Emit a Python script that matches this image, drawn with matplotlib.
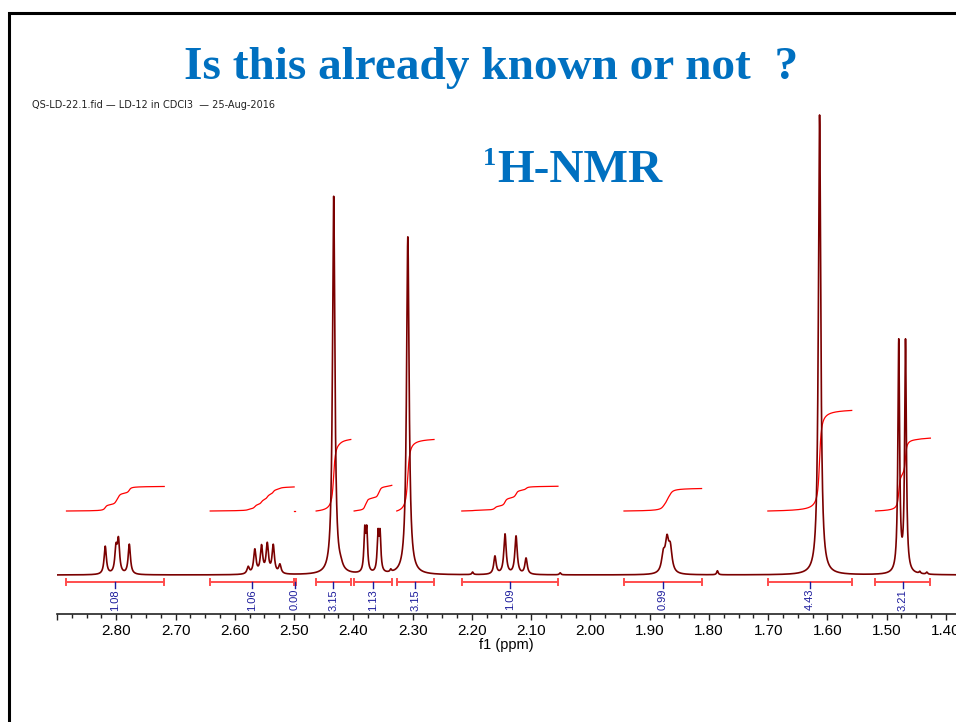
import numpy as np
import matplotlib.pyplot as plt
from matplotlib.patches import Rectangle
from matplotlib.ticker import MultipleLocator, FuncFormatter

# пики спектра: положение (ppm), высота (усл. ед.), полуширина (ppm)
peak_ppm = [2.8186, 2.8005, 2.7963, 2.7780,
            2.5774, 2.5662, 2.5549, 2.5452, 2.5351, 2.5239,
            2.4331, 2.4213,
            2.3807, 2.3773, 2.3583, 2.3549, 2.3368,
            2.3080,
            2.1987, 2.1610, 2.1440, 2.1254, 2.1085, 2.0510,
            1.8769, 1.8707, 1.8651, 1.7856,
            1.6132,
            1.4796, 1.4682, 1.4441, 1.4323]
peak_height = [28, 24, 32, 30,
               7, 24, 27, 29, 28, 9,
               378, 4,
               40, 40, 37, 37, 2.5,
               338,
               2.5, 18, 40, 38, 16, 2,
               17, 30, 23, 4,
               460,
               231, 231, 2, 2]
peak_hw = [0.0023, 0.0023, 0.0023, 0.0023,
           0.0024, 0.0024, 0.0024, 0.0024, 0.0024, 0.0024,
           0.0024, 0.0040,
           0.0017, 0.0017, 0.0017, 0.0017, 0.0015,
           0.0026,
           0.0015, 0.0024, 0.0024, 0.0024, 0.0024, 0.0015,
           0.0035, 0.0035, 0.0035, 0.0015,
           0.0024,
           0.0017, 0.0017, 0.0015, 0.0015]

# интегралы: границы областей (ppm) и значения
int_start = [2.8840, 2.6415, 2.5000, 2.4627, 2.3987, 2.3267, 2.2170, 1.9433, 1.7005, 1.5189]
int_end = [2.7190, 2.4998, 2.4975, 2.4042, 2.3350, 2.2637, 2.0546, 1.8123, 1.5589, 1.4262]
int_value = [1.08, 1.06, 0.00, 3.15, 1.13, 3.15, 1.09, 0.99, 4.43, 3.21]

W, H = 956, 722
fig = plt.figure(figsize=(W / 100, H / 100), dpi=100)

# рамка слайда
fig.add_artist(Rectangle((8.5 / W, -0.1), 1.2, 1 - 12.5 / H + 0.1, transform=fig.transFigure,
                         fill=False, edgecolor='black', linewidth=2.2))

ax = fig.add_axes([57 / W, (H - 614) / H, 1 - 57 / W, (614 - 100) / H])

ppm = np.linspace(2.90, 1.383, 12000)
spec = np.zeros_like(ppm)
for p, h, w in zip(peak_ppm, peak_height, peak_hw):
    spec += h * w ** 2 / ((ppm - p) ** 2 + w ** 2)

# кривые интегралов
scale = 22.7
base = 64
for a, b, v in zip(int_start, int_end, int_value):
    m = (ppm <= a) & (ppm >= b)
    cum = np.cumsum(spec[m])
    cum = cum / cum[-1]
    ax.plot(ppm[m], base + v * scale * cum, color='#ff0000', lw=0.9)

ax.plot(ppm, spec, color='#7a0000', lw=1.2)

# полоски интегралов и подписи
for a, b, v in zip(int_start, int_end, int_value):
    ax.plot([a, b], [-7, -7], color='#ff4d4d', lw=1.4)
    ax.plot([a, a], [-10, -4], color='#ff4d4d', lw=1.4)
    ax.plot([b, b], [-10, -4], color='#ff4d4d', lw=1.4)
    c = (a + b) / 2
    ax.plot([c, c], [-7, -13], color='#1c1c9c', lw=1.0)
    ax.text(c, -14, f'{v:.2f}', rotation=90, ha='center', va='top',
            fontsize=8, color='#1c1c9c', family='Liberation Sans')

ax.set_xlim(2.90, 1.383)
ax.set_ylim(-39, 475)
for s in ['left', 'right', 'top']:
    ax.spines[s].set_visible(False)
ax.spines['bottom'].set_color('#222222')
ax.spines['bottom'].set_linewidth(1.2)
ax.set_yticks([])
ax.xaxis.set_major_locator(MultipleLocator(0.1))
ax.xaxis.set_minor_locator(MultipleLocator(0.025))
ax.xaxis.set_major_formatter(FuncFormatter(lambda v, pos: '' if v > 2.85 else f'{v:.2f}'))
ax.tick_params(axis='x', which='major', length=4, width=1, color='#222222', pad=3,
               labelsize=11)
ax.tick_params(axis='x', which='minor', length=3, width=1, color='#222222')
for lab in ax.get_xticklabels():
    lab.set_family('Liberation Sans')
ax.set_xlabel('f1 (ppm)', fontsize=10.5, family='Liberation Sans', labelpad=0)
ax.patch.set_alpha(0)

# заголовки
blue = '#0070c0'
fig.text(491 / W, 1 - 79 / H, 'Is this already known or not  ?', ha='center', va='baseline',
         fontsize=34, fontweight='bold', family='Liberation Serif', color=blue)
fig.text(483 / W, 1 - 165 / H, '1', ha='left', va='baseline',
         fontsize=19, fontweight='bold', family='Liberation Serif', color=blue)
fig.text(497 / W, 1 - 182 / H, 'H-NMR', ha='left', va='baseline',
         fontsize=34, fontweight='bold', family='Liberation Serif', color=blue)
fig.text(32 / W, 1 - 105 / H, 'QS-LD-22.1.fid — LD-12 in CDCl3  — 25-Aug-2016', ha='left',
         va='center', fontsize=7, family='DejaVu Sans', color='#222222')

fig.savefig('out.png', dpi=100)
